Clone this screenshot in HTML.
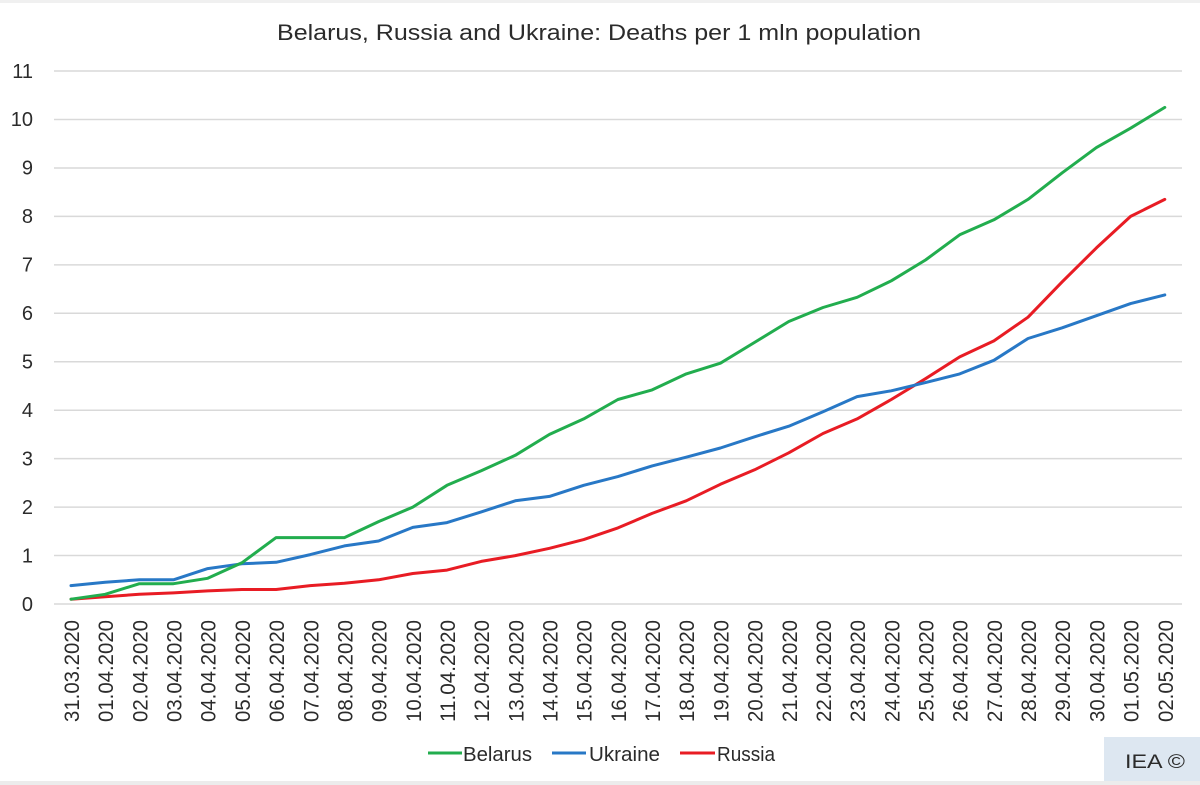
<!DOCTYPE html>
<html>
<head>
<meta charset="utf-8">
<style>
html,body{margin:0;padding:0;background:#fff;}
body{width:1200px;height:785px;overflow:hidden;}
svg{display:block;}
text{font-family:"Liberation Sans",sans-serif;fill:#2b2b2b;}
</style>
</head>
<body>
<svg width="1200" height="785" viewBox="0 0 1200 785" xmlns="http://www.w3.org/2000/svg">
<rect x="0" y="0" width="1200" height="785" fill="#fff"/>
<rect x="0" y="0" width="1200" height="3" fill="#f0f0f0"/>
<rect x="0" y="781" width="1200" height="4" fill="#ececec"/>

<text x="599" y="40" font-size="22" text-anchor="middle" textLength="644" lengthAdjust="spacingAndGlyphs">Belarus, Russia and Ukraine: Deaths per 1 mln population</text>

<g stroke="#d9d9d9" stroke-width="1.5">
<line x1="54" x2="1182" y1="604" y2="604"/>
<line x1="54" x2="1182" y1="555.55" y2="555.55"/>
<line x1="54" x2="1182" y1="507.1" y2="507.1"/>
<line x1="54" x2="1182" y1="458.65" y2="458.65"/>
<line x1="54" x2="1182" y1="410.2" y2="410.2"/>
<line x1="54" x2="1182" y1="361.75" y2="361.75"/>
<line x1="54" x2="1182" y1="313.3" y2="313.3"/>
<line x1="54" x2="1182" y1="264.85" y2="264.85"/>
<line x1="54" x2="1182" y1="216.4" y2="216.4"/>
<line x1="54" x2="1182" y1="167.95" y2="167.95"/>
<line x1="54" x2="1182" y1="119.5" y2="119.5"/>
<line x1="54" x2="1182" y1="71.05" y2="71.05"/>
</g>

<g font-size="20" text-anchor="end">
<text x="33" y="611">0</text>
<text x="33" y="562.5">1</text>
<text x="33" y="514">2</text>
<text x="33" y="465.5">3</text>
<text x="33" y="417">4</text>
<text x="33" y="368.5">5</text>
<text x="33" y="320">6</text>
<text x="33" y="271.5">7</text>
<text x="33" y="223">8</text>
<text x="33" y="174.5">9</text>
<text x="33" y="126">10</text>
<text x="33" y="78">11</text>
</g>

<g font-size="21" text-anchor="end">
<text transform="translate(79,620) rotate(-90)" textLength="102" lengthAdjust="spacingAndGlyphs">31.03.2020</text>
<text transform="translate(113.2,620) rotate(-90)" textLength="102" lengthAdjust="spacingAndGlyphs">01.04.2020</text>
<text transform="translate(147.4,620) rotate(-90)" textLength="102" lengthAdjust="spacingAndGlyphs">02.04.2020</text>
<text transform="translate(181.5,620) rotate(-90)" textLength="102" lengthAdjust="spacingAndGlyphs">03.04.2020</text>
<text transform="translate(215.7,620) rotate(-90)" textLength="102" lengthAdjust="spacingAndGlyphs">04.04.2020</text>
<text transform="translate(249.9,620) rotate(-90)" textLength="102" lengthAdjust="spacingAndGlyphs">05.04.2020</text>
<text transform="translate(284.1,620) rotate(-90)" textLength="102" lengthAdjust="spacingAndGlyphs">06.04.2020</text>
<text transform="translate(318.3,620) rotate(-90)" textLength="102" lengthAdjust="spacingAndGlyphs">07.04.2020</text>
<text transform="translate(352.4,620) rotate(-90)" textLength="102" lengthAdjust="spacingAndGlyphs">08.04.2020</text>
<text transform="translate(386.6,620) rotate(-90)" textLength="102" lengthAdjust="spacingAndGlyphs">09.04.2020</text>
<text transform="translate(420.8,620) rotate(-90)" textLength="102" lengthAdjust="spacingAndGlyphs">10.04.2020</text>
<text transform="translate(455,620) rotate(-90)" textLength="102" lengthAdjust="spacingAndGlyphs">11.04.2020</text>
<text transform="translate(489.2,620) rotate(-90)" textLength="102" lengthAdjust="spacingAndGlyphs">12.04.2020</text>
<text transform="translate(523.3,620) rotate(-90)" textLength="102" lengthAdjust="spacingAndGlyphs">13.04.2020</text>
<text transform="translate(557.5,620) rotate(-90)" textLength="102" lengthAdjust="spacingAndGlyphs">14.04.2020</text>
<text transform="translate(591.7,620) rotate(-90)" textLength="102" lengthAdjust="spacingAndGlyphs">15.04.2020</text>
<text transform="translate(625.9,620) rotate(-90)" textLength="102" lengthAdjust="spacingAndGlyphs">16.04.2020</text>
<text transform="translate(660.1,620) rotate(-90)" textLength="102" lengthAdjust="spacingAndGlyphs">17.04.2020</text>
<text transform="translate(694.2,620) rotate(-90)" textLength="102" lengthAdjust="spacingAndGlyphs">18.04.2020</text>
<text transform="translate(728.4,620) rotate(-90)" textLength="102" lengthAdjust="spacingAndGlyphs">19.04.2020</text>
<text transform="translate(762.6,620) rotate(-90)" textLength="102" lengthAdjust="spacingAndGlyphs">20.04.2020</text>
<text transform="translate(796.8,620) rotate(-90)" textLength="102" lengthAdjust="spacingAndGlyphs">21.04.2020</text>
<text transform="translate(831,620) rotate(-90)" textLength="102" lengthAdjust="spacingAndGlyphs">22.04.2020</text>
<text transform="translate(865.1,620) rotate(-90)" textLength="102" lengthAdjust="spacingAndGlyphs">23.04.2020</text>
<text transform="translate(899.3,620) rotate(-90)" textLength="102" lengthAdjust="spacingAndGlyphs">24.04.2020</text>
<text transform="translate(933.5,620) rotate(-90)" textLength="102" lengthAdjust="spacingAndGlyphs">25.04.2020</text>
<text transform="translate(967.7,620) rotate(-90)" textLength="102" lengthAdjust="spacingAndGlyphs">26.04.2020</text>
<text transform="translate(1001.9,620) rotate(-90)" textLength="102" lengthAdjust="spacingAndGlyphs">27.04.2020</text>
<text transform="translate(1036,620) rotate(-90)" textLength="102" lengthAdjust="spacingAndGlyphs">28.04.2020</text>
<text transform="translate(1070.2,620) rotate(-90)" textLength="102" lengthAdjust="spacingAndGlyphs">29.04.2020</text>
<text transform="translate(1104.4,620) rotate(-90)" textLength="102" lengthAdjust="spacingAndGlyphs">30.04.2020</text>
<text transform="translate(1138.6,620) rotate(-90)" textLength="102" lengthAdjust="spacingAndGlyphs">01.05.2020</text>
<text transform="translate(1172.8,620) rotate(-90)" textLength="102" lengthAdjust="spacingAndGlyphs">02.05.2020</text>
</g>

<g fill="none" stroke-width="3" stroke-linejoin="round" stroke-linecap="round">
<polyline stroke="#e81c24" points="71,599.2 105.2,596.7 139.4,594.3 173.5,592.9 207.7,590.9 241.9,589.5 276.1,589.5 310.3,585.6 344.4,583.2 378.6,579.8 412.8,573.5 447,570.1 481.2,561.4 515.3,555.6 549.5,548.3 583.7,539.6 617.9,527.9 652.1,513.4 686.2,500.8 720.4,484.3 754.6,469.8 788.8,452.8 823,433.5 857.1,418.9 891.3,399.5 925.5,378.7 959.7,356.9 993.9,340.9 1028,317.2 1062.2,281.8 1096.4,247.9 1130.6,216.4 1164.8,199.4"/>
<polyline stroke="#2878c6" points="71,585.6 105.2,582.2 139.4,579.8 173.5,579.8 207.7,568.6 241.9,563.8 276.1,562.3 310.3,554.6 344.4,545.9 378.6,541 412.8,527.4 447,522.6 481.2,511.9 515.3,500.8 549.5,496.4 583.7,485.3 617.9,476.6 652.1,465.9 686.2,457.2 720.4,448 754.6,436.8 788.8,426.2 823,411.7 857.1,396.6 891.3,390.8 925.5,382.6 959.7,373.9 993.9,360.3 1028,338.5 1062.2,327.8 1096.4,315.7 1130.6,303.6 1164.8,294.9"/>
<polyline stroke="#22ad4e" points="71,599.2 105.2,594.3 139.4,583.7 173.5,583.7 207.7,578.3 241.9,562.8 276.1,537.6 310.3,537.6 344.4,537.6 378.6,521.6 412.8,507.1 447,485.3 481.2,470.8 515.3,455.3 549.5,434.4 583.7,418.9 617.9,399.5 652.1,389.9 686.2,373.9 720.4,363.2 754.6,342.4 788.8,321.5 823,307.5 857.1,297.3 891.3,280.8 925.5,260 959.7,234.8 993.9,219.8 1028,199.4 1062.2,172.8 1096.4,147.6 1130.6,128.2 1164.8,107.4"/>
</g>

<g stroke-width="3">
<line x1="428" x2="462" y1="753" y2="753" stroke="#22ad4e"/>
<line x1="552" x2="586" y1="753" y2="753" stroke="#2878c6"/>
<line x1="680" x2="715" y1="753" y2="753" stroke="#e81c24"/>
</g>
<g font-size="20">
<text x="463" y="761" textLength="69" lengthAdjust="spacingAndGlyphs">Belarus</text>
<text x="589" y="761" textLength="71" lengthAdjust="spacingAndGlyphs">Ukraine</text>
<text x="717" y="761" textLength="58" lengthAdjust="spacingAndGlyphs">Russia</text>
</g>

<rect x="1104" y="737" width="96" height="44" fill="#dde7f1"/>
<text x="1125" y="768" font-size="19" textLength="60" lengthAdjust="spacingAndGlyphs">IEA ©</text>
</svg>
</body>
</html>
